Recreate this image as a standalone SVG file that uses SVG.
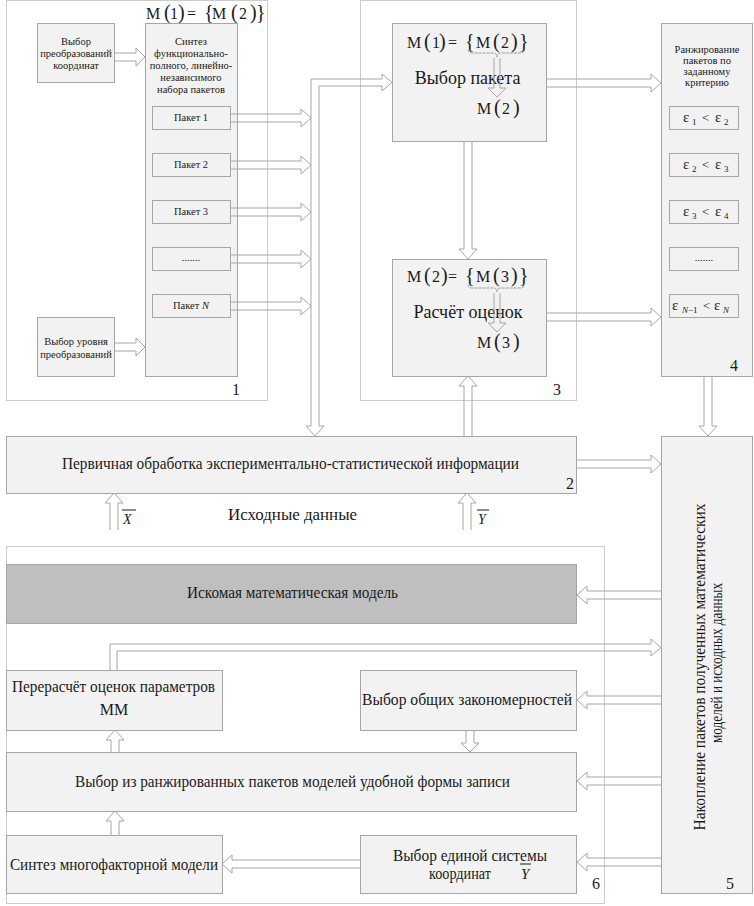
<svg xmlns="http://www.w3.org/2000/svg" width="754" height="906" viewBox="0 0 754 906" font-family="'Liberation Serif','Times New Roman',serif">
<style>
.box{fill:#f2f2f2;stroke:#a6a6a6;stroke-width:1}
.dark{fill:#bfbfbf;stroke:#a6a6a6;stroke-width:1}
.frame{fill:none;stroke:#cccccc;stroke-width:1}
.arr{fill:none;stroke:#a6a6a6;stroke-width:1}
.brace{fill:none;stroke:#999;stroke-width:1;stroke-dasharray:3 1}
text{font-family:"Liberation Serif","Times New Roman",serif;fill:#1a1a1a}
.s10{font-size:10.5px}
.s16{font-size:16px}
.m{font-size:16px}
.b{font-size:20px}
.c{text-anchor:middle}
.i{font-style:italic}
</style>
<rect width="754" height="906" fill="#ffffff"/>

<g id="frames">
<rect class="frame" x="6.5" y="0.5" width="261" height="400"/>
<rect class="frame" x="360.5" y="0.5" width="216" height="400"/>
<rect class="frame" x="6.5" y="546.5" width="598" height="357"/>
</g>

<g id="block1-label">
<text class="m" y="19"><tspan x="146">M</tspan><tspan class="b" x="164">(</tspan><tspan x="170">1</tspan><tspan class="b" x="178">)</tspan><tspan x="187">=</tspan><tspan class="b" x="204">{</tspan><tspan x="212">M</tspan><tspan class="b" x="231">(</tspan><tspan x="239">2</tspan><tspan class="b" x="250">)</tspan><tspan class="b" x="256">}</tspan></text>
<text class="s16" x="232" y="395">1</text>
</g>

<g id="n-coord">
<rect class="box" x="37.5" y="23.5" width="77" height="59"/>
<text class="s10 c" x="76" y="45">Выбор</text>
<text class="s10 c" x="76" y="57">преобразований</text>
<text class="s10 c" x="76" y="69">координат</text>
</g>

<g id="n-level">
<rect class="box" x="37.5" y="317.5" width="77" height="59"/>
<text class="s10 c" x="76" y="345">Выбор уровня</text>
<text class="s10 c" x="76" y="358">преобразований</text>
</g>

<g id="n-synth">
<rect class="box" x="145.5" y="23.5" width="92" height="353"/>
<text class="s10 c" x="191" y="45">Синтез</text>
<text class="s10 c" x="191" y="57">функционально-</text>
<text class="s10 c" x="191" y="69">полного, линейно-</text>
<text class="s10 c" x="191" y="81">независимого</text>
<text class="s10 c" x="191" y="93">набора пакетов</text>
</g>

<g id="n-pak1"><rect class="box" x="152.5" y="106.5" width="78" height="23"/><text class="s10 c" x="191" y="121">Пакет 1</text></g>
<g id="n-pak2"><rect class="box" x="152.5" y="153.5" width="78" height="23"/><text class="s10 c" x="191" y="168">Пакет 2</text></g>
<g id="n-pak3"><rect class="box" x="152.5" y="200.5" width="78" height="23"/><text class="s10 c" x="191" y="215">Пакет 3</text></g>
<g id="n-pakdots"><rect class="box" x="152.5" y="247.5" width="78" height="23"/><text class="s10 c" x="191" y="261">.......</text></g>
<g id="n-pakN"><rect class="box" x="152.5" y="294.5" width="78" height="23"/><text class="s10 c" x="191" y="309">Пакет <tspan class="i">N</tspan></text></g>

<g id="n-select">
<rect class="box" x="392.5" y="23.5" width="154" height="118"/>
<text class="m" y="48"><tspan x="407">M</tspan><tspan class="b" x="424">(</tspan><tspan x="432">1</tspan><tspan class="b" x="439">)</tspan><tspan x="448">=</tspan><tspan class="b" x="465">{</tspan><tspan x="476">M</tspan><tspan class="b" x="493">(</tspan><tspan x="501">2</tspan><tspan class="b" x="511">)</tspan><tspan class="b" x="519">}</tspan></text>
<path class="brace" d="M468,50 Q468,53 472,53 L493,53 Q497,53 497,57 Q497,53 501,53 L520,53 Q524,53 524,50"/>
<text class="c" x="467.5" y="84" style="font-size:18px">Выбор пакета</text>
<path class="arr" d="M494,58 V88 H488 L497,97 L506,88 H500 V58"/>
<text class="m" y="114"><tspan x="477">M</tspan><tspan class="b" x="494">(</tspan><tspan x="502">2</tspan><tspan class="b" x="513">)</tspan></text>
</g>

<g id="n-calc">
<rect class="box" x="392.5" y="259.5" width="154" height="117"/>
<text class="m" y="282"><tspan x="407">M</tspan><tspan class="b" x="424">(</tspan><tspan x="432">2</tspan><tspan class="b" x="441">)</tspan><tspan x="448">=</tspan><tspan class="b" x="465">{</tspan><tspan x="476">M</tspan><tspan class="b" x="493">(</tspan><tspan x="501">3</tspan><tspan class="b" x="511">)</tspan><tspan class="b" x="519">}</tspan></text>
<path class="brace" d="M468,285 Q468,288 472,288 L493,288 Q497,288 497,292 Q497,288 501,288 L520,288 Q524,288 524,285"/>
<text class="c" x="468" y="318" style="font-size:18px">Расчёт оценок</text>
<path class="arr" d="M494,293 V323 H488 L497,332 L506,323 H500 V293"/>
<text class="m" y="348"><tspan x="477">M</tspan><tspan class="b" x="494">(</tspan><tspan x="502">3</tspan><tspan class="b" x="513">)</tspan></text>
<text class="s16" x="553" y="395">3</text>
</g>

<g id="n-rank">
<rect class="box" x="661.5" y="23.5" width="91" height="353"/>
<text class="s10 c" x="707" y="53">Ранжирование</text>
<text class="s10 c" x="707" y="64">пакетов по</text>
<text class="s10 c" x="707" y="75">заданному</text>
<text class="s10 c" x="707" y="86">критерию</text>
<text class="s16" x="730" y="371">4</text>
</g>
<g id="n-e1"><rect class="box" x="669.5" y="106.5" width="69" height="23"/><text style="font-size:15px" y="122"><tspan x="683">ε</tspan><tspan x="692" dy="3" style="font-size:9px">1</tspan><tspan x="702" dy="-3" style="font-size:13px">&lt;</tspan><tspan x="715">ε</tspan><tspan x="724" dy="3" style="font-size:9px">2</tspan></text></g>
<g id="n-e2"><rect class="box" x="669.5" y="153.5" width="69" height="23"/><text style="font-size:15px" y="169"><tspan x="683">ε</tspan><tspan x="692" dy="3" style="font-size:9px">2</tspan><tspan x="702" dy="-3" style="font-size:13px">&lt;</tspan><tspan x="715">ε</tspan><tspan x="724" dy="3" style="font-size:9px">3</tspan></text></g>
<g id="n-e3"><rect class="box" x="669.5" y="200.5" width="69" height="23"/><text style="font-size:15px" y="216"><tspan x="683">ε</tspan><tspan x="692" dy="3" style="font-size:9px">3</tspan><tspan x="702" dy="-3" style="font-size:13px">&lt;</tspan><tspan x="715">ε</tspan><tspan x="724" dy="3" style="font-size:9px">4</tspan></text></g>
<g id="n-edots"><rect class="box" x="669.5" y="247.5" width="69" height="23"/><text class="s10 c" x="704" y="261">.......</text></g>
<g id="n-eN"><rect class="box" x="669.5" y="294.5" width="69" height="23"/><text style="font-size:15px" y="310"><tspan x="672">ε</tspan><tspan x="682" dy="3" style="font-size:9px" class="i">N</tspan><tspan dy="0" style="font-size:9px">−1</tspan><tspan x="703" dy="-3" style="font-size:13px">&lt;</tspan><tspan x="714">ε</tspan><tspan x="723" dy="3" style="font-size:9px" class="i">N</tspan></text></g>

<g id="n-primary">
<rect class="box" x="6.5" y="436.5" width="570" height="57"/>
<text x="62" y="469" style="font-size:16px" textLength="457" lengthAdjust="spacingAndGlyphs">Первичная обработка экспериментально-статистической информации</text>
<text class="s16" x="566" y="489">2</text>
</g>

<g id="inputs">
<text x="228" y="520" style="font-size:17px" textLength="129" lengthAdjust="spacingAndGlyphs">Исходные данные</text>
<text class="i" x="123" y="524" style="font-size:14px">X</text>
<line x1="122" y1="510" x2="136" y2="510" stroke="#1a1a1a" stroke-width="1"/>
<text class="i" x="478" y="524" style="font-size:14px">Y</text>
<line x1="477" y1="510" x2="489" y2="510" stroke="#1a1a1a" stroke-width="1"/>
</g>

<g id="n-accum">
<rect class="box" x="661.5" y="436.5" width="91" height="457"/>
<text class="c" transform="translate(705,667) rotate(-90)" style="font-size:16px" textLength="327" lengthAdjust="spacingAndGlyphs">Накопление пакетов полученных математических</text>
<text class="c" transform="translate(722,663) rotate(-90)" style="font-size:16px" textLength="160" lengthAdjust="spacingAndGlyphs">моделей и исходных данных</text>
<text class="s16" x="726" y="889">5</text>
</g>

<g id="n-model">
<rect class="dark" x="6.5" y="564.5" width="570" height="59"/>
<text x="187" y="598" style="font-size:16px" textLength="211" lengthAdjust="spacingAndGlyphs">Искомая математическая модель</text>
</g>
<g id="n-recalc">
<rect class="box" x="6.5" y="670.5" width="216" height="60"/>
<text x="12" y="692" style="font-size:16px" textLength="203" lengthAdjust="spacingAndGlyphs">Перерасчёт оценок параметров</text>
<text class="c" x="114" y="715" style="font-size:16px">ММ</text>
</g>
<g id="n-general">
<rect class="box" x="360.5" y="670.5" width="216" height="60"/>
<text x="362" y="705" style="font-size:16px" textLength="210" lengthAdjust="spacingAndGlyphs">Выбор общих закономерностей</text>
</g>
<g id="n-choose">
<rect class="box" x="6.5" y="752.5" width="570" height="59"/>
<text x="75" y="787" style="font-size:16px" textLength="435" lengthAdjust="spacingAndGlyphs">Выбор из ранжированных пакетов моделей удобной формы записи</text>
</g>
<g id="n-multi">
<rect class="box" x="6.5" y="835.5" width="216" height="58"/>
<text x="10" y="870" style="font-size:16px" textLength="208" lengthAdjust="spacingAndGlyphs">Синтез многофакторной модели</text>
</g>
<g id="n-unified">
<rect class="box" x="360.5" y="835.5" width="216" height="58"/>
<text x="393" y="861" style="font-size:16px" textLength="154" lengthAdjust="spacingAndGlyphs">Выбор единой системы</text>
<text x="429" y="879" style="font-size:16px" textLength="62" lengthAdjust="spacingAndGlyphs">координат</text>
<text class="i" x="521" y="879" style="font-size:15px">Y</text>
<line x1="520" y1="864" x2="531" y2="864" stroke="#1a1a1a" stroke-width="1"/>
<text class="s16" x="592" y="889">6</text>
</g>

<g id="connectors">
<path class="arr" d="M114,53 H136 V48 L145,57 L136,66 V61 H114"/>
<path class="arr" d="M114,343 H136 V338 L145,347 L136,356 V351 H114"/>
<path class="arr" d="M230,114 H301 V109 L311,118 L301,127 V122 H230"/>
<path class="arr" d="M230,161 H301 V156 L311,165 L301,174 V169 H230"/>
<path class="arr" d="M230,208 H301 V203 L311,212 L301,221 V216 H230"/>
<path class="arr" d="M230,255 H301 V250 L311,259 L301,268 V263 H230"/>
<path class="arr" d="M230,302 H301 V297 L311,306 L301,315 V310 H230"/>
<path class="arr" d="M382,79 H311 V426 H306 L315,436 L324,426 H319 V86 H382 V91 L392,82.5 L382,74 Z"/>
<path class="arr" d="M546,79 H651 V74 L661,83 L651,92 V87 H546"/>
<path class="arr" d="M464,141 V249 H459 L468,259 L477,249 H472 V141"/>
<path class="arr" d="M464,436 V386 H459 L468,376 L477,386 H472 V436"/>
<path class="arr" d="M546,313 H651 V308 L661,317 L651,326 V321 H546"/>
<path class="arr" d="M704,376 V426 H699 L708,436 L717,426 H712 V376"/>
<path class="arr" d="M577,460 H651 V455 L661,464 L651,473 V468 H577"/>
<path class="arr" d="M110,530 V503 H105 L114,493 L123,503 H118 V530"/>
<path class="arr" d="M463,530 V503 H458 L467,493 L476,503 H471 V530"/>
<path class="arr" d="M661,591 H587 V586 L577,595 L587,604 V599 H661"/>
<path class="arr" d="M110,670 V644 H651 V639 L661,647.5 L651,656 V651 H117 V670"/>
<path class="arr" d="M661,696 H587 V691 L577,700 L587,709 V704 H661"/>
<path class="arr" d="M466,730 V743 H461 L470,752 L479,743 H474 V730"/>
<path class="arr" d="M111,752 V740 H106 L115,730 L124,740 H119 V752"/>
<path class="arr" d="M661,777 H587 V772 L577,781 L587,790 V785 H661"/>
<path class="arr" d="M111,835 V821 H106 L115,811 L124,821 H119 V835"/>
<path class="arr" d="M360,860 H232 V855 L222,864 L232,873 V868 H360"/>
<path class="arr" d="M661,858 H587 V853 L577,862 L587,871 V866 H661"/>
</g>
</svg>
